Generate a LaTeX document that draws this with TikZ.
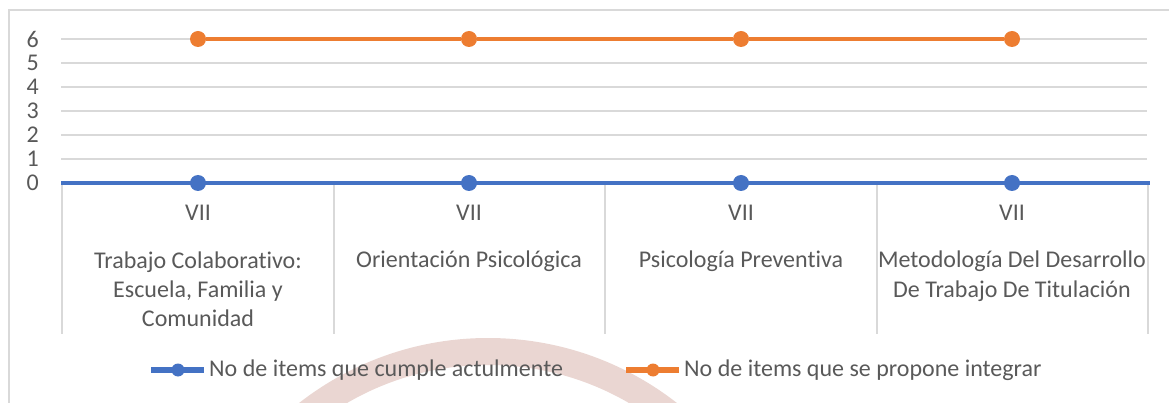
\documentclass[tikz,border=0pt]{standalone}
\usepackage{fontspec}
\setmainfont{Carlito}[Ligatures=CommonOff]
\usetikzlibrary{positioning}
\definecolor{sblue}{HTML}{4472C4}
\definecolor{sorange}{HTML}{ED7D31}
\definecolor{lgray}{HTML}{D9D9D9}
\definecolor{tgray}{HTML}{595959}
\definecolor{wmark}{RGB}{234,214,210}
\tikzset{grid line/.style = {lgray, line width=1.3pt},
         series/.style = {line width=4.8pt},
         ptdot/.style = {circle, fill, inner sep=0pt, minimum size=16pt},
         label text/.style = {text=tgray, font=\fontsize{24}{29}\selectfont}}

\begin{document}
\begin{tikzpicture}[x=1pt, y=-1pt]
    \useasboundingbox (0,0) rectangle (1169,403);

    % watermark behind the chart
    \begin{scope}
      \clip (0,0) rectangle (1169,403);
      \fill [wmark, even odd rule] (488,645) circle (307pt) (488,645) circle (280pt);
    \end{scope}

    \draw [grid line] (8,10) -- (1169,10);
    \draw [grid line] (9,10) -- (9,403);

    \foreach \v in {1,...,6}
      \draw [grid line] (61,{183-24*\v}) -- (1147,{183-24*\v});
    \foreach \v in {0,...,6}
      \node [label text, anchor=east, inner sep=0pt] (tick\v) at (39,{183-24*\v}) {\v};
    \foreach \x in {62,334,605,877,1148}
      \draw [grid line] (\x,183) -- (\x,334);

    \draw [series, sblue] (61,183) -- (1150,183);
    \foreach \x [count=\i] in {198,469,741,1012} {
      \node [ptdot, sblue] (b\i) at (\x,183) {};
      \node [ptdot, sorange] (o\i) at (\x,39) {};
      \node [label text] (sem\i) at (\x,213) {VII};
    }
    \draw [series, sorange] (o1) -- (o2) -- (o3) -- (o4);

    % base anchor = baseline of the last line
    \node [label text, align=center, anchor=base] (name1) at (198,326) {Trabajo Colaborativo:\\Escuela, Familia y\\Comunidad};
    \node [label text, align=center, anchor=base] (name2) at (469,268) {Orientación Psicológica};
    \node [label text, align=center, anchor=base] (name3) at (741,268) {Psicología Preventiva};
    \node [label text, align=center, anchor=base] (name4) at (1012,297) {Metodología Del Desarrollo\\De Trabajo De Titulación};

    % legend
    \coordinate (lb0) at (151,370);
    \coordinate (lb1) at (204,370);
    \draw [sblue, line width=6pt] (lb0) -- (lb1);
    \node [ptdot, sblue, minimum size=13pt] (lbdot) at (178,370) {};
    \node [label text, anchor=west, inner sep=0pt, right=5pt of lb1] (lbtext) {No de items que cumple actulmente};

    \coordinate (lo0) at (626,370);
    \coordinate (lo1) at (679,370);
    \draw [sorange, line width=6pt] (lo0) -- (lo1);
    \node [ptdot, sorange, minimum size=13pt] (lodot) at (653,370) {};
    \node [label text, anchor=west, inner sep=0pt, right=5pt of lo1] (lotext) {No de items que se propone integrar};
\end{tikzpicture}
\end{document}
